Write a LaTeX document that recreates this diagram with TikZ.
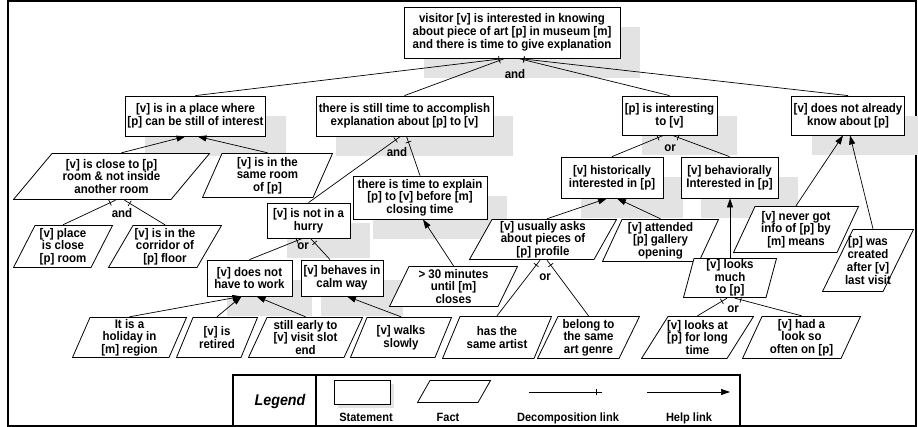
\documentclass[tikz,border=0pt]{standalone}
\usepackage{fontspec}
\setmainfont{Liberation Sans}[FakeStretch=0.92]
\usepackage{tikz}
\usetikzlibrary{arrows.meta, shadows, decorations.markings}

\begin{document}
\begin{tikzpicture}[
                x=1pt, y=-1pt,
                statement/.style={draw, fill=white, line width=0.8pt, align=center, inner sep=2pt,
                    font=\fontsize{12.5}{12.7}\selectfont\bfseries,
                    drop shadow={shadow xshift=#1, shadow yshift=-#1, fill=black!11, opacity=1}},
                statement/.default=20pt,
                factslant/.store in=\factslant,
                fact/.style={rectangle, inner sep=1pt, align=center, factslant=20pt,
                    font=\fontsize{12.5}{12.7}\selectfont\bfseries,
                    path picture={\draw[line width=0.8pt, fill=white]
                        ([shift={(\factslant,-0.5pt)}]path picture bounding box.north west) --
                        ([shift={(-0.5pt,-0.5pt)}]path picture bounding box.north east) --
                        ([shift={(-\factslant,0.5pt)}]path picture bounding box.south east) --
                        ([shift={(0.5pt,0.5pt)}]path picture bounding box.south west) -- cycle;}},
                decomp/.style={line width=0.7pt, postaction={decorate, decoration={markings,
                    mark=at position -6pt with {\draw[line width=0.7pt] (0,-3pt) -- (0,3pt);}}}},
                help/.style={line width=0.7pt, ->, >={Triangle[length=9pt, width=6pt]}},
                gate/.style={font=\fontsize{12.5}{12.7}\selectfont\bfseries},
                caption/.style={font=\fontsize{12}{12.7}\selectfont\bfseries}
            ]
                \useasboundingbox (0,0) rectangle (918,427);
                \clip (0,0) rectangle (918,427);

                % Cadre extérieur
                \draw[line width=2pt] (8,1.5) rectangle (916,425.5);

                % Buts (rectangles avec ombre)
                \node[statement, minimum width=216pt, minimum height=51pt] (A) at (512,32.5)
                    {visitor [v] is interested in knowing\\ about piece of art {[p]} in museum [m]\\ and there is time to give explanation};
                \node[statement, minimum width=125pt, minimum height=40pt] (B) at (195.5,116)
                    {[v] is in a place  where\\ {[p]} can be still of interest};
                \node[statement, minimum width=177pt, minimum height=40pt] (C) at (404.5,116)
                    {there is still time to accomplish\\ explanation  about [p] to [v]};
                \node[statement, minimum width=95pt, minimum height=39pt] (D) at (669.5,115.5)
                    {[p] is interesting\\ to [v]};
                \node[statement, minimum width=110pt, minimum height=39pt] (E) at (848,115.5)
                    {[v] does not already\\ know about [p]};
                \node[statement, minimum width=102pt, minimum height=41pt] (F) at (612,177.5)
                    {[v] historically\\ interested in [p]};
                \node[statement, minimum width=97pt, minimum height=41pt] (G) at (729.5,177.5)
                    {[v] behaviorally\\ Interested in [p]};
                \node[statement, minimum width=134pt, minimum height=43pt] (I) at (420,197.5)
                    {there is time to explain\\ {[p]} to [v] before [m]\\ closing time};
                \node[statement, minimum width=83pt, minimum height=35pt] (H) at (308.5,220.5)
                    {[v] is not in a\\ hurry};
                \node[statement, minimum width=85pt, minimum height=36pt] (J) at (249.5,278)
                    {[v] does not\\ have to work};
                \node[statement, minimum width=82pt, minimum height=36pt] (K) at (342,278)
                    {[v] behaves in\\ calm way};

                % Faits (parallélogrammes)
                \node[fact, minimum width=197pt, minimum height=47pt, factslant=39pt] (f1) at (111.5,176.5)
                    {[v] is close to [p]\\ room \& not inside\\ another room};
                \node[fact, minimum width=131pt, minimum height=45pt] (f2) at (267.5,175.5)
                    {[v] is in the\\ same room\\ of [p]};
                \node[fact, minimum width=100pt, minimum height=43pt, factslant=22pt] (f3) at (63,246.5)
                    {[v] place\\ is close\\ {[p]} room};
                \node[fact, minimum width=114pt, minimum height=43pt, factslant=25pt] (f4) at (165,246.5)
                    {[v] is in the\\ corridor of\\ {[p]} floor};
                \node[fact, minimum width=129pt, minimum height=41pt] (f5) at (453.5,286.5)
                    {> 30 minutes\\ until  [m]\\ closes};
                \node[fact, minimum width=148pt, minimum height=41pt, factslant=23pt] (f6) at (543,239.5)
                    {[v] usually asks\\ about pieces of\\ {[p]} profile};
                \node[fact, minimum width=117pt, minimum height=43pt] (f7) at (660.5,240.5)
                    {[v] attended\\ {[p]} gallery\\ opening};
                \node[fact, minimum width=126pt, minimum height=47pt, factslant=22pt] (f8) at (796,229.5)
                    {[v] never got\\ info of [p] by\\ {[m]} means};
                \node[fact, minimum width=92pt, minimum height=63pt, factslant=31pt] (f9) at (868,260.5)
                    {[p] was\\ created\\ after [v]\\ last visit};
                \node[fact, minimum width=94pt, minimum height=40pt, factslant=11pt, inner ysep=0pt] (f10) at (730,278)
                    {[v] looks\\ much\\ to [p]};
                \node[fact, minimum width=115pt, minimum height=41pt, factslant=18pt] (f11) at (129.5,337.5)
                    {It is a\\ holiday in\\ {[m]} region};
                \node[fact, minimum width=82pt, minimum height=41pt, factslant=17pt] (f12) at (217,337.5)
                    {[v] is\\ retired};
                \node[fact, minimum width=115pt, minimum height=41pt, factslant=19pt] (f13) at (305.5,337.5)
                    {still early to\\ {[v]} visit slot\\ end};
                \node[fact, minimum width=102pt, minimum height=41pt, factslant=17pt] (f14) at (401,337.5)
                    {[v] walks\\ slowly};
                \node[fact, minimum width=110pt, minimum height=43pt, factslant=18pt] (f15) at (497,337.5)
                    {has the\\ same artist};
                \node[fact, minimum width=103pt, minimum height=43pt, factslant=21pt] (f16) at (588.5,337.5)
                    {belong to\\ the same\\ art genre};
                \node[fact, minimum width=113pt, minimum height=43pt, factslant=27pt] (f17) at (697.5,337.5)
                    {[v] looks at\\ {[p]} for long\\ time};
                \node[fact, minimum width=119pt, minimum height=43pt] (f18) at (801.5,337.5)
                    {[v] had a\\ look so\\ often on [p]};

                % Liens de décomposition (and / or)
                \draw[decomp] (B.north) -- ([xshift=-7pt]A.south);
                \draw[decomp] (C.north) -- ([xshift=-7pt]A.south);
                \draw[decomp] (D.north) -- ([xshift=6pt]A.south);
                \draw[decomp] (E.north) -- ([xshift=6pt]A.south);
                \draw[decomp] (f3.north) -- ([xshift=4pt]f1.south);
                \draw[decomp] (f4.north) -- ([xshift=13pt]f1.south);
                \draw[decomp] (H.north) -- ([xshift=-4pt]C.south);
                \draw[decomp] (I.north) -- ([xshift=2pt]C.south);
                \draw[decomp] (J.north) -- ([xshift=-6pt]H.south);
                \draw[decomp] ([xshift=-12pt]K.north) -- ([xshift=2pt]H.south);
                \draw[decomp] (F.north) -- ([xshift=-6pt]D.south);
                \draw[decomp] (G.north) -- ([xshift=3pt]D.south);
                \draw[decomp] (f15.north) -- ([xshift=-3pt]f6.south);
                \draw[decomp] (f16.north) -- ([xshift=4pt]f6.south);
                \draw[decomp] (f17.north) -- ([xshift=-3pt]f10.south);
                \draw[decomp] (f18.north) -- ([xshift=5pt]f10.south);

                \node[gate] (gA) at (515,74) {and};
                \node[gate] (gf1) at (122,213) {and};
                \node[gate] (gC) at (397,152) {and};
                \node[gate] (gH) at (303,246) {or};
                \node[gate] (gD) at (670,148) {or};
                \node[gate] (gf6) at (545,277) {or};
                \node[gate] (gf10) at (733,309) {or};

                % Liens d'aide (flèches)
                \draw[help] ([xshift=10pt]f1.north) -- ([xshift=-10pt]B.south);
                \draw[help] (f2.north) -- ([xshift=2pt]B.south);
                \draw[help] (f11.north) -- ([xshift=-8pt]J.south);
                \draw[help] (f12.north) -- ([xshift=-8pt]J.south);
                \draw[help] (f13.north) -- ([xshift=7pt]J.south);
                \draw[help] (f14.north) -- ([xshift=5pt]K.south);
                \draw[help] (f5.north) -- ([xshift=3pt]I.south);
                \draw[help] ([xshift=4pt]f6.north) -- ([xshift=-5pt]F.south);
                \draw[help] (f7.north) -- ([xshift=5pt]F.south);
                \draw[help] (f10.north) -- (f10.north |- G.south);
                \draw[help] (f8.north) -- ([xshift=-5pt]E.south);
                \draw[help] ([xshift=5pt]f9.north) -- ([xshift=2pt]E.south);

                % Légende
                \draw[line width=1.5pt] (233,375) rectangle (740,426);
                \draw[line width=1.5pt] (316,375) -- (316,426);
                \node[font=\fontsize{15.5}{18}\selectfont\bfseries\itshape] (leg) at (280,401) {Legend};
                \node[statement=4pt, minimum width=56pt, minimum height=24pt] (legS) at (362,392) {};
                \node[caption] (legSt) at (366,417) {Statement};
                \node[fact, minimum width=74pt, minimum height=23pt, factslant=13pt] (legF) at (454,391.5) {};
                \node[caption] (legFt) at (448,417) {Fact};
                \coordinate (dA) at (529,392);
                \coordinate (dB) at (602,392);
                \draw[decomp] (dA) -- (dB);
                \node[caption] (legDt) at (568,418) {Decomposition link};
                \coordinate (hA) at (647,392);
                \coordinate (hB) at (730,392);
                \draw[help] (hA) -- (hB);
                \node[caption] (legHt) at (689,418) {Help link};
            \end{tikzpicture}
\end{document}
